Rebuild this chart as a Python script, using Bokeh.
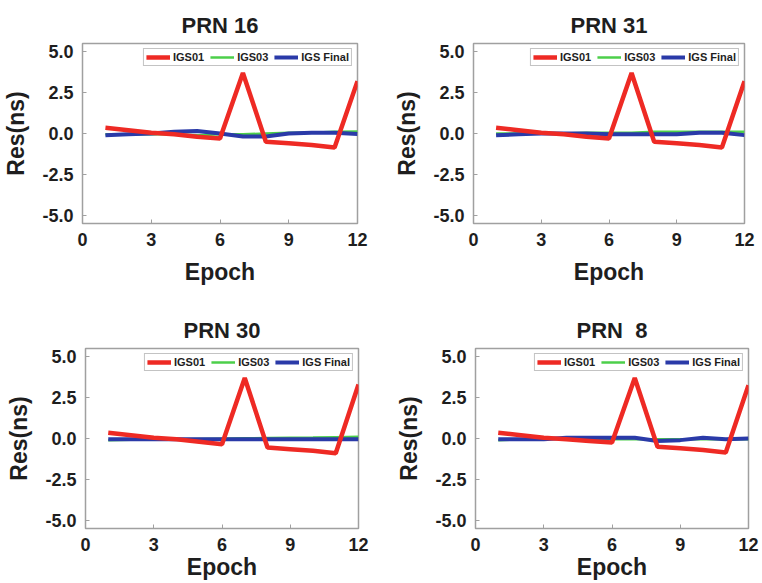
from bokeh.plotting import figure
from bokeh.layouts import column, row
from bokeh.models import Range1d, FixedTicker, Legend, LegendItem, NumeralTickFormatter
from bokeh.embed import file_html
from bokeh.resources import INLINE

epochs = [1, 2, 3, 4, 5, 6, 7, 8, 9, 10, 11, 12]
series_names = ["IGS01", "IGS03", "IGS Final"]
x_ticks = [0, 3, 6, 9, 12]
y_ticks = [-5.0, -2.5, 0.0, 2.5, 5.0]

titles = ["PRN 16", "PRN 31", "PRN 30", "PRN \u00a08"]

igs01_16 = [0.35, 0.2, 0.05, -0.05, -0.2, -0.3, 3.7, -0.5, -0.6, -0.7, -0.85, 3.2]
igs03_16 = [-0.05, -0.05, -0.05, -0.05, -0.1, -0.05, -0.05, 0.0, 0.05, 0.05, 0.1, 0.12]
final_16 = [-0.1, -0.05, 0.0, 0.1, 0.15, 0.0, -0.18, -0.18, 0.0, 0.05, 0.05, -0.03]

igs01_31 = [0.35, 0.2, 0.05, -0.05, -0.2, -0.3, 3.7, -0.5, -0.6, -0.7, -0.85, 3.2]
igs03_31 = [0.0, 0.0, 0.0, 0.0, 0.05, 0.05, 0.05, 0.1, 0.1, 0.1, 0.1, 0.1]
final_31 = [-0.1, -0.05, 0.0, 0.0, 0.0, -0.05, -0.05, -0.05, -0.05, 0.05, 0.05, -0.1]

igs01_30 = [0.35, 0.2, 0.05, -0.05, -0.2, -0.35, 3.7, -0.55, -0.65, -0.75, -0.9, 3.3]
igs03_30 = [-0.1, -0.08, -0.06, -0.05, -0.03, -0.01, 0.01, 0.03, 0.05, 0.06, 0.08, 0.1]
final_30 = [-0.05, -0.05, -0.05, -0.05, -0.05, -0.05, -0.05, -0.05, -0.05, -0.05, -0.05, -0.05]

igs01_8 = [0.35, 0.2, 0.05, -0.05, -0.15, -0.25, 3.7, -0.5, -0.6, -0.7, -0.85, 3.25]
igs03_8 = [-0.1, -0.05, 0.0, 0.0, 0.0, -0.05, -0.05, -0.05, -0.05, -0.05, -0.05, -0.05]
final_8 = [-0.05, -0.05, -0.05, 0.05, 0.05, 0.05, 0.05, -0.15, -0.1, 0.05, -0.05, 0.0]

panels = [
    (titles[0], igs01_16, igs03_16, final_16),
    (titles[1], igs01_31, igs03_31, final_31),
    (titles[2], igs01_30, igs03_30, final_30),
    (titles[3], igs01_8, igs03_8, final_8),
]

RED = "#ee2a24"
GREEN = "#4ccf4a"
BLUE = "#2a3aa8"
FONT = "Liberation Sans"
TXT = "#1e1e1e"
GRAY = "#a0a0a0"

# (width, height, border_left, border_right, border_top, border_bottom, label_standoff)
geom = [
    (391, 295, 82, 34, 43, 72, 10),
    (371, 295, 82, 18, 43, 72, 10),
    (391, 288, 85, 33, 53, 55, 0),
    (371, 288, 84, 14, 53, 55, 0),
]


def make(i):
    title, r, g, b = panels[i]
    w, h, bl, br, bt, bb, ls = geom[i]
    p = figure(width=w, height=h, output_backend="svg", toolbar_location=None,
               x_range=Range1d(0, 12), y_range=Range1d(-5.5, 5.5),
               min_border_left=bl, min_border_right=br, min_border_top=bt,
               min_border_bottom=bb, title=title)
    p.title.align = "center"
    p.title.text_font = FONT
    p.title.text_font_size = "22px"
    p.title.text_font_style = "bold"
    p.title.text_color = TXT
    p.title.standoff = 12
    p.xgrid.visible = False
    p.ygrid.visible = False
    p.outline_line_color = GRAY
    p.outline_line_width = 1.5
    for ax in (p.xaxis[0], p.yaxis[0]):
        ax.axis_line_color = GRAY
        ax.major_tick_line_color = GRAY
        ax.minor_tick_line_color = None
        ax.major_tick_in = 4
        ax.major_tick_out = 0
        ax.major_label_text_font = FONT
        ax.major_label_text_font_size = "18px"
        ax.major_label_text_font_style = "bold"
        ax.major_label_text_color = TXT
        ax.axis_label_text_font = FONT
        ax.axis_label_text_font_size = "23px"
        ax.axis_label_text_font_style = "bold"
        ax.axis_label_text_color = TXT
        ax.major_label_standoff = 9
    p.xaxis.ticker = FixedTicker(ticks=x_ticks)
    p.yaxis.ticker = FixedTicker(ticks=y_ticks)
    p.yaxis.formatter = NumeralTickFormatter(format="0.0")
    p.xaxis.axis_label = "Epoch"
    p.yaxis.axis_label = "Res(ns)"
    p.xaxis.axis_label_standoff = ls
    p.yaxis.axis_label_standoff = 10

    lg = p.line(epochs, g, line_color=GREEN, line_width=2.5)
    lb = p.line(epochs, b, line_color=BLUE, line_width=4)
    lr = p.line(epochs, r, line_color=RED, line_width=4.5)

    legend = Legend(items=[LegendItem(label=series_names[0], renderers=[lr]),
                           LegendItem(label=series_names[1], renderers=[lg]),
                           LegendItem(label=series_names[2], renderers=[lb])],
                    orientation="horizontal", location="top_right")
    legend.label_text_font = FONT
    legend.label_text_font_size = "11px"
    legend.label_text_font_style = "bold"
    legend.label_text_color = TXT
    legend.label_height = 12
    legend.glyph_height = 12
    legend.glyph_width = 24
    legend.label_standoff = 3
    legend.spacing = 6
    legend.padding = 2
    legend.margin = 5
    legend.border_line_color = "#888888"
    legend.border_line_width = 1
    legend.background_fill_alpha = 1
    p.add_layout(legend)
    return p


figs = [make(i) for i in range(4)]
layout = column(row(figs[0], figs[1]), row(figs[2], figs[3]))
open("out.html", "w").write(file_html(layout, INLINE))
